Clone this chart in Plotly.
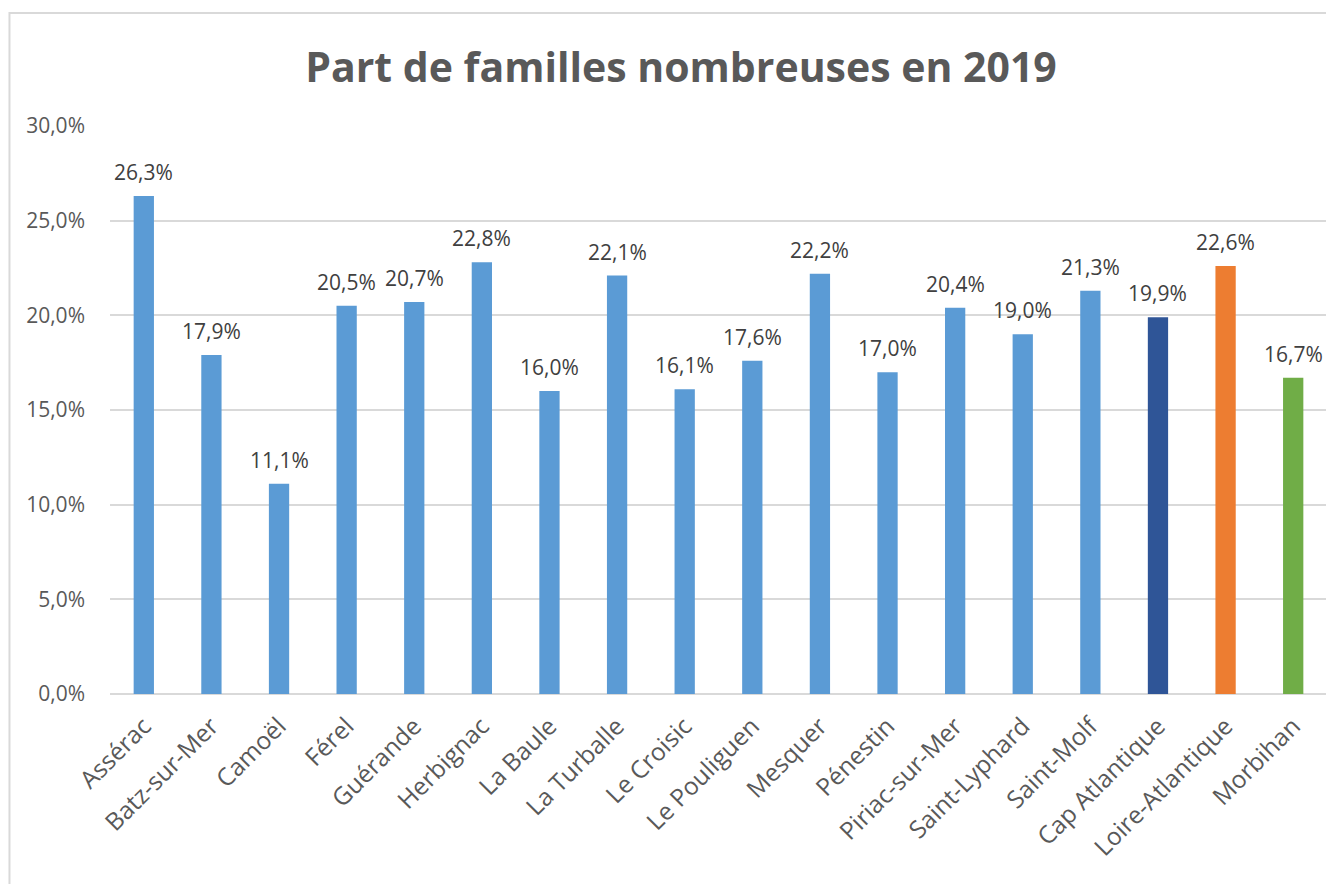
import plotly.graph_objects as go

categories = ["Assérac", "Batz-sur-Mer", "Camoël", "Férel", "Guérande", "Herbignac",
              "La Baule", "La Turballe", "Le Croisic", "Le Pouliguen", "Mesquer",
              "Pénestin", "Piriac-sur-Mer", "Saint-Lyphard", "Saint-Molf",
              "Cap Atlantique", "Loire-Atlantique", "Morbihan"]
values = [26.3, 17.9, 11.1, 20.5, 20.7, 22.8, 16.0, 22.1, 16.1, 17.6, 22.2,
          17.0, 20.4, 19.0, 21.3, 19.9, 22.6, 16.7]
bar_colors = ["#5B9BD5"] * 15 + ["#2F5597", "#ED7D31", "#70AD47"]
tick_values = [0, 5, 10, 15, 20, 25, 30]
tick_labels = ["0,0%", "5,0%", "10,0%", "15,0%", "20,0%", "25,0%", "30,0%"]
title_text = "Part de familles nombreuses en 2019"

FONT = "Open Sans"

fig = go.Figure(go.Bar(
    x=categories, y=values,
    marker=dict(color=bar_colors, line=dict(width=0)),
    width=0.3,
))

for c, v in zip(categories, values):
    fig.add_annotation(x=c, y=v, xref="x", yref="y",
                       text=f"{v:.1f}%".replace(".", ","), showarrow=False,
                       yanchor="middle", xanchor="center", yshift=24,
                       font=dict(family=FONT, size=21, color="#404040"))

fig.update_layout(
    width=1334, height=884,
    margin=dict(l=102, r=15, t=118, b=198),
    paper_bgcolor="white", plot_bgcolor="white",
    title=dict(text=f"<b>{title_text}</b>", x=0.5045, xanchor="center",
               y=0.932, yanchor="middle",
               font=dict(family=FONT, size=41, color="#595959")),
    showlegend=False,
    xaxis=dict(tickangle=-45, tickfont=dict(family=FONT, size=24.5, color="#595959"),
               showgrid=False, showline=False, ticks="", ticklen=0,
               ticklabelstandoff=12),
    yaxis=dict(range=[0, 30], tickvals=tick_values, ticktext=tick_labels,
               tickfont=dict(family=FONT, size=21, color="#595959"),
               showgrid=True, gridcolor="#D9D9D9", gridwidth=1.5,
               zeroline=True, zerolinecolor="#D9D9D9", zerolinewidth=1.5,
               showline=False, ticks="", ticklabelstandoff=24),
    shapes=[dict(type="rect", xref="paper", yref="paper",
                 x0=-0.0826, x1=1.05, y0=-0.5, y1=1.199,
                 line=dict(color="#D9D9D9", width=2), fillcolor="rgba(0,0,0,0)",
                 layer="below")],
)

fig.write_html("out.html")
